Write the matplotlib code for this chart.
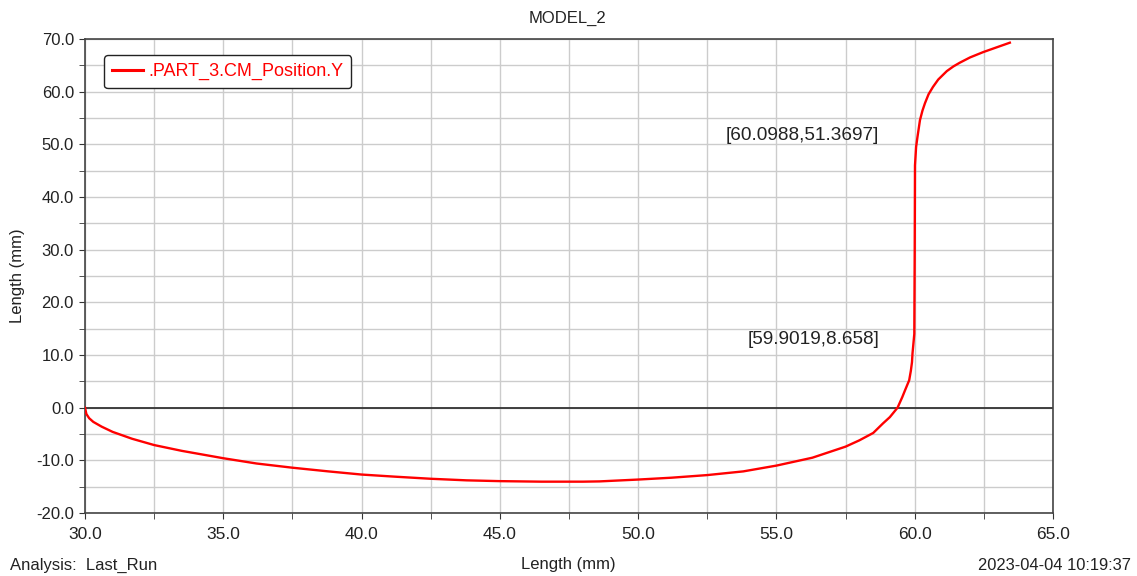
import matplotlib
matplotlib.use("Agg")
import matplotlib.pyplot as plt
from matplotlib.ticker import MultipleLocator, FormatStrFormatter

# curve (Length x, Position.Y)
x_vals = [30.0, 30.05, 30.15, 30.3, 30.6, 31.0, 31.7, 32.5, 33.5, 35.0, 36.2, 37.5,
          38.8, 40.0, 41.2, 42.5, 43.8, 45.0, 46.5, 48.0, 48.6, 50.0, 51.2, 52.5,
          53.8, 55.0, 56.3, 57.5, 58.0, 58.5, 58.85, 59.1, 59.38, 59.55, 59.65, 59.8,
          59.86, 59.9019, 59.92, 59.95, 59.985, 60.0, 60.01, 60.05, 60.0988, 60.19,
          60.28, 60.37, 60.5, 60.66, 60.85, 61.16, 61.4, 61.63, 62.0, 62.47, 62.9, 63.44]
y_vals = [0.0, -1.2, -2.0, -2.7, -3.6, -4.6, -5.9, -7.1, -8.2, -9.6, -10.6, -11.4,
          -12.1, -12.7, -13.1, -13.5, -13.8, -13.95, -14.05, -14.05, -14.0, -13.65, -13.3, -12.8,
          -12.1, -11.0, -9.5, -7.4, -6.2, -4.8, -3.0, -1.8, 0.0, 2.0, 3.3, 5.2,
          7.0, 8.658, 10.3, 12.0, 14.0, 30.0, 46.0, 49.5, 51.3697, 54.6,
          56.4, 57.8, 59.5, 60.9, 62.3, 63.9, 64.8, 65.5, 66.5, 67.5, 68.3, 69.3]

series_name = ".PART_3.CM_Position.Y"
marks = [(60.0988, 51.3697), (59.9019, 8.658)]
mark_offsets_px = [(-38, 2), (-33, 23)]   # label right-edge offset from the point

plt.rcParams['font.family'] = ['Liberation Sans', 'DejaVu Sans']

fig = plt.figure(figsize=(11.37, 5.76), dpi=100)
ax = fig.add_axes([85 / 1137, 1 - 513 / 576, (1053 - 85) / 1137, (513 - 39) / 576])

ax.plot(x_vals, y_vals, color='#ff0000', lw=1.7, label=series_name, zorder=3)
ax.axhline(0, color='#333333', lw=1.3, zorder=2)

ax.set_xlim(30, 65)
ax.set_ylim(-20, 70)
ax.xaxis.set_major_locator(MultipleLocator(5))
ax.xaxis.set_minor_locator(MultipleLocator(2.5))
ax.yaxis.set_major_locator(MultipleLocator(10))
ax.yaxis.set_minor_locator(MultipleLocator(5))
ax.xaxis.set_major_formatter(FormatStrFormatter('%.1f'))
ax.yaxis.set_major_formatter(FormatStrFormatter('%.1f'))
ax.grid(True, which='both', color='#cccccc', lw=1.0, zorder=0)
ax.tick_params(which='both', direction='out', color='#333333', labelcolor='#222222')
ax.tick_params(which='major', length=4, labelsize=12, pad=4)
ax.tick_params(which='minor', length=4)
ax.tick_params(axis='x', which='major', labelsize=12.5, pad=6)
for sp in ax.spines.values():
    sp.set_color('#444444')
    sp.set_linewidth(1.2)

for (mx, my), (dx, dy) in zip(marks, mark_offsets_px):
    ax.annotate('[%s,%s]' % (mx, my), xy=(mx, my), xytext=(dx * 0.72, dy * 0.72),
                textcoords='offset points', ha='right', va='center',
                fontsize=13.7, color='#222222')

ax.set_ylabel('Length (mm)', fontsize=12, color='#222222', labelpad=8)

leg = ax.legend(loc='upper left', bbox_to_anchor=((104 - 85) / 968, 1 - (55 - 39) / 474),
                frameon=True, fancybox=True, fontsize=13, handlelength=1.7,
                handletextpad=0.3, borderpad=0.45, borderaxespad=0)
leg.get_frame().set_edgecolor('#222222')
leg.get_frame().set_linewidth(1.0)
leg.get_frame().set_alpha(1)
for t in leg.get_texts():
    t.set_color('#ff0000')
for ln in leg.get_lines():
    ln.set_linewidth(2.2)

fig.text(568 / 1137, 1 - 18 / 576, 'MODEL_2', ha='center', va='center', fontsize=12, color='#222222')
fig.text(10 / 1137, 1 - 565 / 576, 'Analysis:  Last_Run', ha='left', va='center', fontsize=12, color='#222222')
fig.text(568 / 1137, 1 - 565 / 576, 'Length (mm)', ha='center', va='center',
         fontsize=12, color='#222222')
fig.text(1131 / 1137, 1 - 565 / 576, '2023-04-04 10:19:37', ha='right', va='center',
         fontsize=11.9, color='#222222')

fig.savefig('out.png', dpi=100)
